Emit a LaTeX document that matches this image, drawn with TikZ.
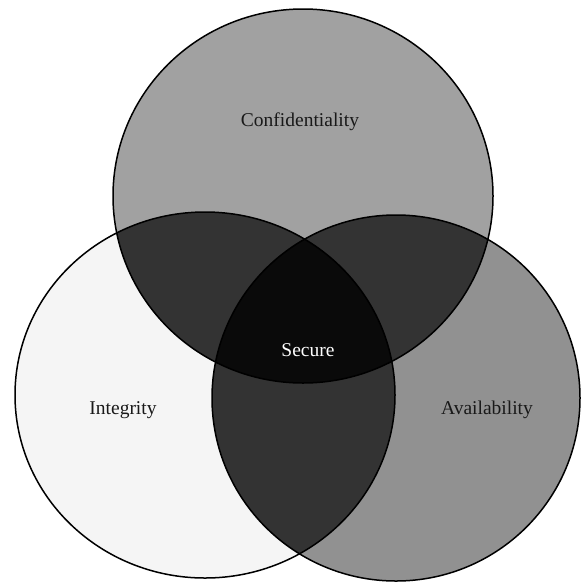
\documentclass[tikz,border=0pt]{standalone}
\usepackage{fontspec}
\setmainfont{Liberation Serif}
\usetikzlibrary{positioning}

\definecolor{confgray}{gray}{0.63}
\definecolor{integgray}{gray}{0.96}
\definecolor{availgray}{gray}{0.57}
\definecolor{pairgray}{gray}{0.2}
\definecolor{coregray}{gray}{0.04}

\begin{document}
\begin{tikzpicture}[
  x=1pt, y=-1pt,
  font=\fontsize{19.5}{22}\selectfont,
  ring/.style={draw=black, line width=1.5pt},
  region/.style={inner sep=0pt, text=black!90},
  core/.style={inner sep=0pt, text=white}
]
\useasboundingbox (0,0) rectangle (585,582);

% Circle centres
\coordinate (conf) at (303,196);
\coordinate (integ) at (205,395);
\coordinate (avail) at (396,398);

% Base fills
\fill[confgray] (conf) ellipse[x radius=190pt, y radius=187pt];
\fill[integgray] (integ) ellipse[x radius=190pt, y radius=183pt];
\fill[availgray] (avail) ellipse[x radius=184pt, y radius=183pt];

% Pairwise overlaps
\begin{scope}
  \clip (conf) ellipse[x radius=190pt, y radius=187pt];
  \fill[pairgray] (integ) ellipse[x radius=190pt, y radius=183pt];
  \fill[pairgray] (avail) ellipse[x radius=184pt, y radius=183pt];
\end{scope}
\begin{scope}
  \clip (integ) ellipse[x radius=190pt, y radius=183pt];
  \fill[pairgray] (avail) ellipse[x radius=184pt, y radius=183pt];
\end{scope}

% Triple overlap
\begin{scope}
  \clip (conf) ellipse[x radius=190pt, y radius=187pt];
  \clip (integ) ellipse[x radius=190pt, y radius=183pt];
  \fill[coregray] (avail) ellipse[x radius=184pt, y radius=183pt];
\end{scope}

% Outlines
\draw[ring] (conf) ellipse[x radius=190pt, y radius=187pt];
\draw[ring] (integ) ellipse[x radius=190pt, y radius=183pt];
\draw[ring] (avail) ellipse[x radius=184pt, y radius=183pt];

% Labels
\node[region] (conflabel) at (300,122) {Confidentiality};
\node[core] (securelabel) at (308,350) {Secure};
\node[region] (integlabel) at (123,410) {Integrity};
\node[region] (availlabel) at (487,410) {Availability};

\end{tikzpicture}
\end{document}
